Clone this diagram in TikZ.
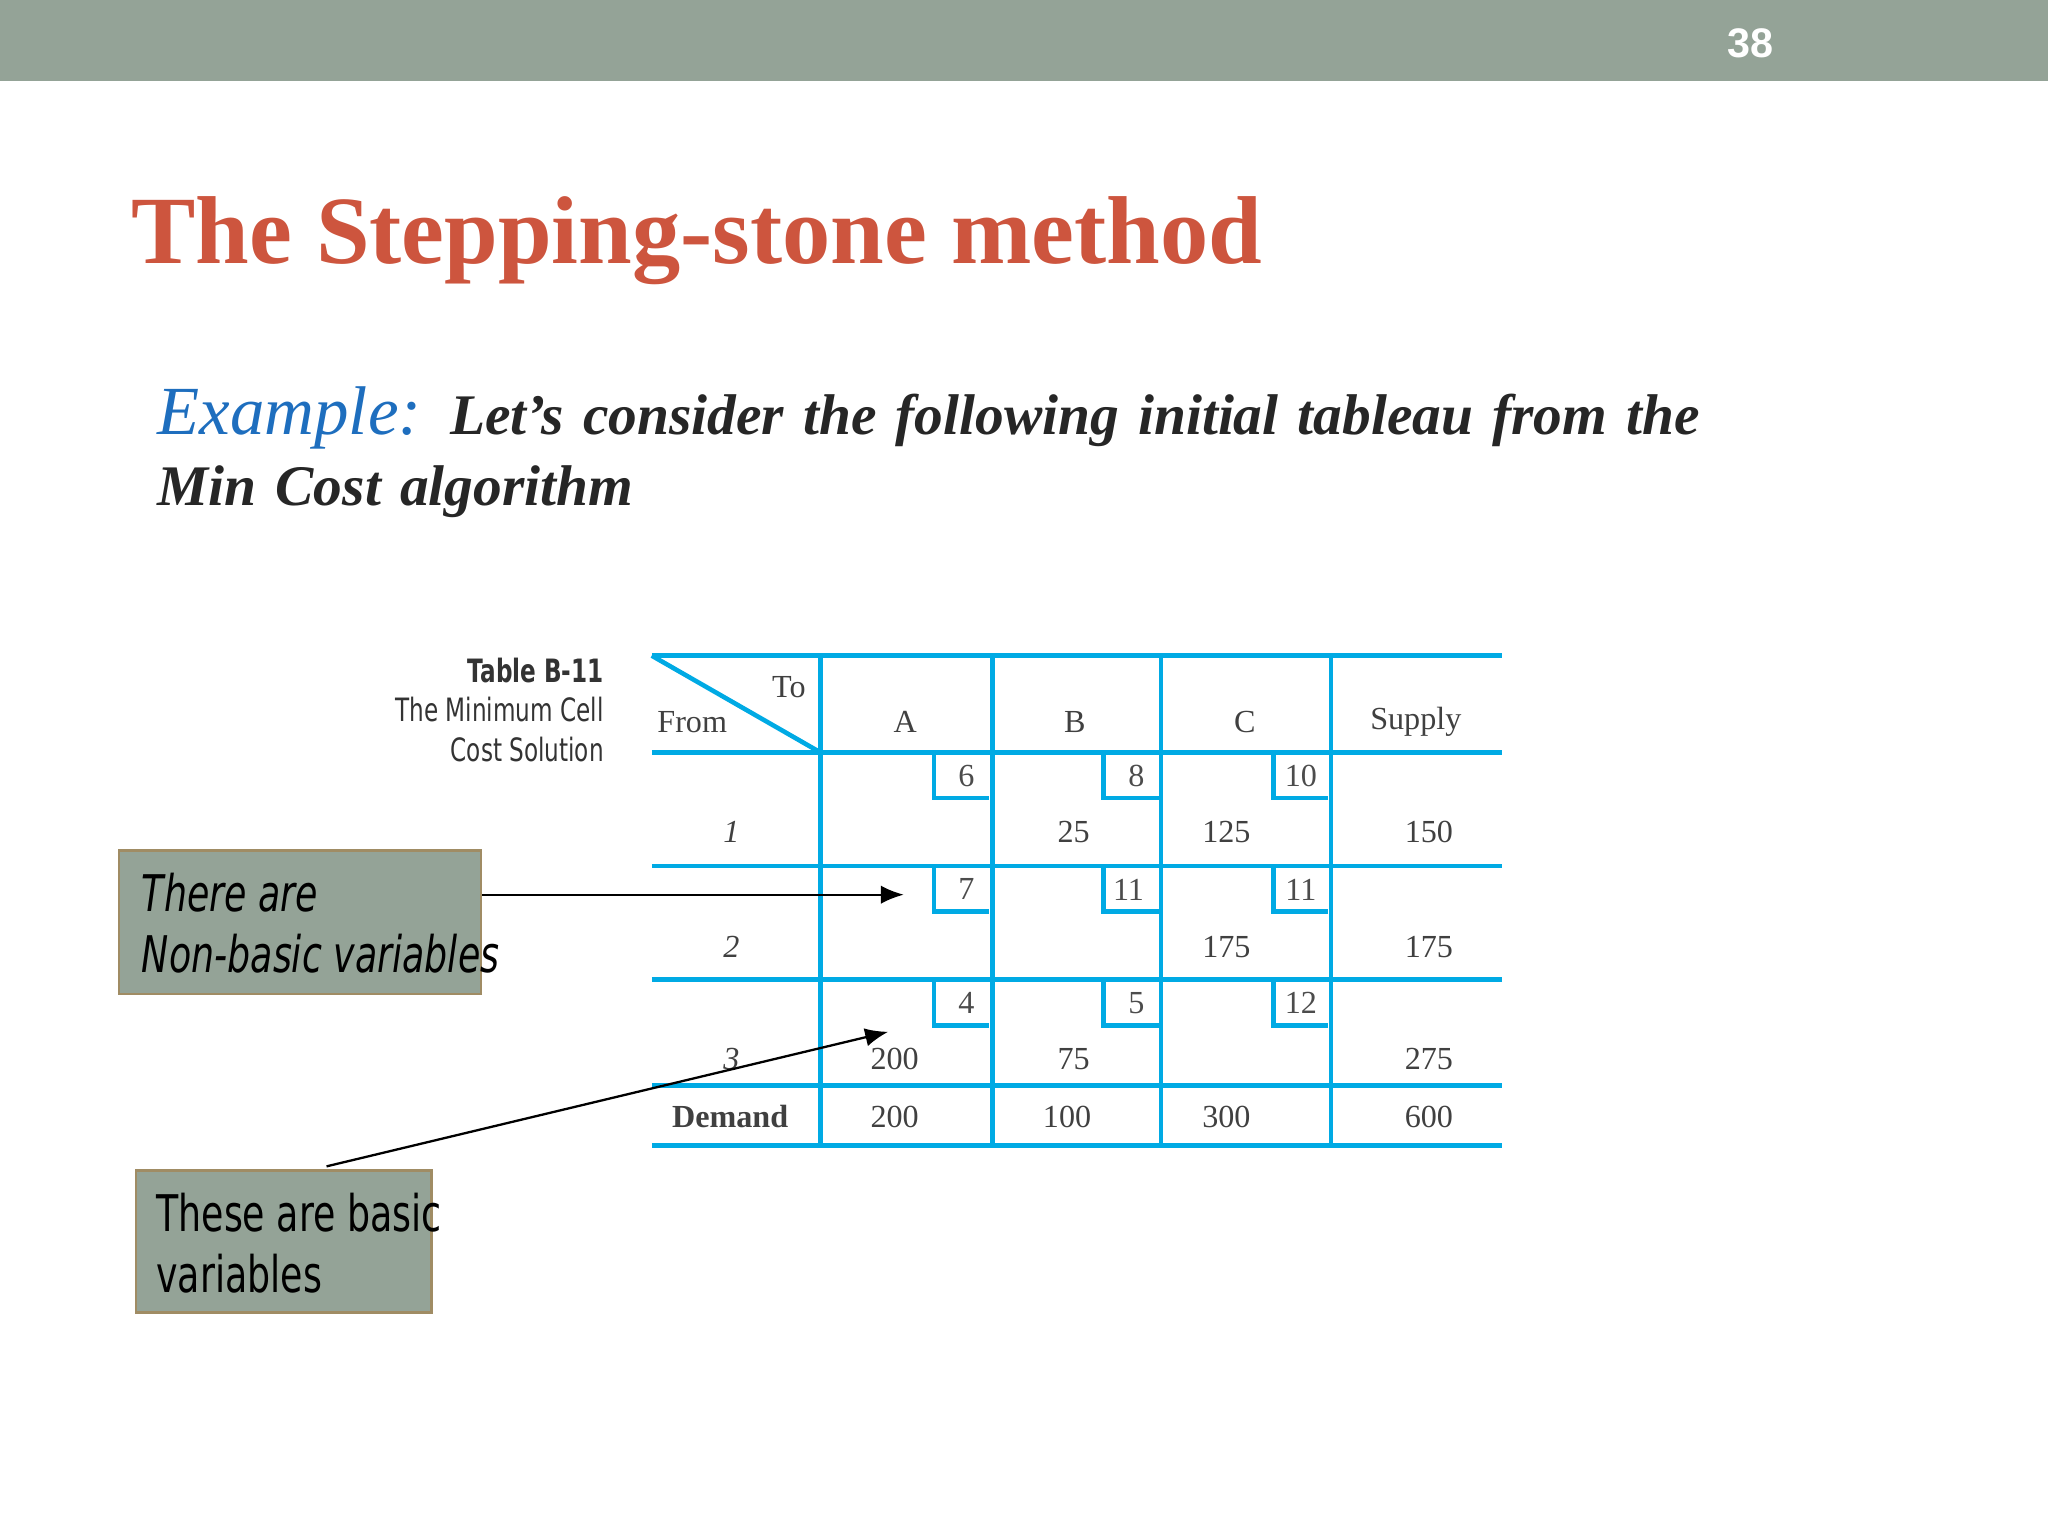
\documentclass[tikz,border=0pt]{standalone}
\usepackage{fontspec}
\setmainfont{Liberation Serif}
\setsansfont{Liberation Sans}
\newfontfamily\cond[FakeStretch=0.72]{DejaVu Sans}
\usetikzlibrary{arrows.meta}
\definecolor{bar}{RGB}{148,163,151}
\definecolor{ttl}{RGB}{205,85,62}
\definecolor{exb}{RGB}{30,110,190}
\definecolor{cy}{RGB}{0,170,228}
\definecolor{brd}{RGB}{160,140,100}
\tikzset{grid/.style={cy,line width=1pt},
 cost/.style={font=\fontsize{7}{8}\selectfont,text=black!70},
 val/.style={font=\fontsize{7}{8}\selectfont,text=black!75},
 callout/.style={fill=bar,draw=brd,line width=0.6pt,align=left,anchor=north west,inner sep=0pt},
 arr/.style={-{Latex[length=5pt,width=4pt]},line width=0.5pt}}
\begin{document}
\begin{tikzpicture}[x=0.01cm,y=-0.01cm]
\useasboundingbox (0,0) rectangle (1568,1176);
\fill[bar] (0,0) rectangle (1568,62);
\node[text=white,font=\sffamily\bfseries\fontsize{9}{11}\selectfont] (pg) at (1340,33) {38};
\node[anchor=west,text=ttl,font=\bfseries\fontsize{21}{24}\selectfont] (title) at (88,184) {The Stepping-stone method};
\node[anchor=west,align=left,font=\fontsize{12.5}{15.5}\selectfont,text width=13cm,inner sep=0pt] (ex) at (120,346)
 {{\color{exb}\itshape\fontsize{15}{15.5}\selectfont Example:} {\bfseries\itshape\color{black!85}Let’s consider the following initial tableau from the}\\
 {\bfseries\itshape\color{black!85}Min Cost algorithm}};
% caption
\node[anchor=north east,align=right,font=\cond\fontsize{7}{8.6}\selectfont,text=black!80,inner sep=0pt] (cap) at (463,503)
 {\textbf{Table B-11}\\The Minimum Cell\\Cost Solution};
% grid
\foreach \y in {502,576,663,750,831,877} \draw[grid] (499,\y) -- (1150,\y);
\foreach \x in {628,760,889,1019} \draw[grid] (\x,502) -- (\x,877);
\draw[grid] (499,502) -- (628,576);
\node[val] (to) at (604,526) {To};
\node[val] (from) at (530,553) {From};
\node[val] (hA) at (693,553) {A};
\node[val] (hB) at (823,553) {B};
\node[val] (hC) at (953,553) {C};
\node[val] (hS) at (1084,553) {Supply};
% cost boxes
\foreach \r/\y in {1/576,2/663,3/750}{
 \foreach \x in {757,887,1017} \draw[grid] (\x-42,\y) -- (\x-42,\y+35) -- (\x,\y+35);}
\node[cost] (c11) at (740,594) {6};
\node[cost] (c12) at (870,594) {8};
\node[cost] (c13) at (996,594) {10};
\node[cost] (c21) at (740,681) {7};
\node[cost] (c22) at (864,681) {11};
\node[cost] (c23) at (996,681) {11};
\node[cost] (c31) at (740,768) {4};
\node[cost] (c32) at (870,768) {5};
\node[cost] (c33) at (996,768) {12};
\node[val,font=\itshape\fontsize{7}{8}\selectfont] (r1) at (560,637) {1};
\node[val,font=\itshape\fontsize{7}{8}\selectfont] (r2) at (560,725) {2};
\node[val,font=\itshape\fontsize{7}{8}\selectfont] (r3) at (560,811) {3};
\node[val] (v12) at (822,637) {25};
\node[val] (v13) at (939,637) {125};
\node[val] (s1) at (1094,637) {150};
\node[val] (v23) at (939,725) {175};
\node[val] (s2) at (1094,725) {175};
\node[val] (v31) at (685,811) {200};
\node[val] (v32) at (822,811) {75};
\node[val] (s3) at (1094,811) {275};
\node[val,font=\bfseries\fontsize{7}{8}\selectfont] (dem) at (559,855) {Demand};
\node[val] (dA) at (685,855) {200};
\node[val] (dB) at (817,855) {100};
\node[val] (dC) at (939,855) {300};
\node[val] (dS) at (1094,855) {600};
% callouts
\node[callout,minimum width=2.77cm,minimum height=1.1cm] (b1) at (90,650) {};
\node[anchor=west,align=left,font=\cond\itshape\fontsize{11}{13.2}\selectfont,inner sep=0pt] (t1) at (108,707) {There are\\Non-basic variables};
\node[callout,minimum width=2.26cm,minimum height=1.09cm] (b2) at (103,895) {};
\node[anchor=west,align=left,font=\cond\fontsize{11}{13.2}\selectfont,inner sep=0pt] (t2) at (119,952) {These are basic\\variables};
\coordinate (a1) at (692,685);
\coordinate (a2) at (680,790);
\draw[arr] (b1.east |- a1) -- (a1);
\draw[arr] (250,893) -- (a2);
\end{tikzpicture}
\end{document}
